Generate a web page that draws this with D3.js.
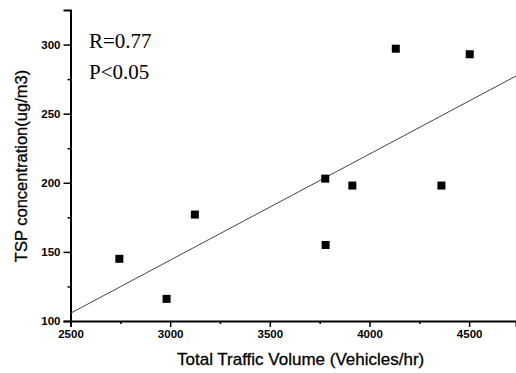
<!DOCTYPE html>
<html>
<head>
<meta charset="utf-8">
<script src="https://cdn.jsdelivr.net/npm/d3@7"></script>
<style>
  body { margin: 0; background: #fff; }
  svg { display: block; }
  .tick text { font-family: "Liberation Sans", Arial, sans-serif; font-weight: bold; font-size: 11.5px; fill: #000; }
</style>
</head>
<body>
<svg id="chart" width="516" height="373"></svg>
<script>
// Traffic volume (vehicles/hr) vs TSP concentration (ug/m3)
const traffic = [2745, 2982, 3124, 3778, 3780, 3914, 4132, 4361, 4503];
const tsp     = [145,  116,  177,  203,  155,  198,  297,  198,  293];
const xTicks = [2500, 3000, 3500, 4000, 4500];
const yTicks = [100, 150, 200, 250, 300];
const fitSlope = 0.0768, fitIntercept = -86.4;
const statLines = ["R=0.77", "P<0.05"];

const svg = d3.select("#chart");
const m = { left: 70.5, right: 0, top: 10, bottom: 52 };
const W = 516, H = 373;

const x = d3.scaleLinear().domain([2500, 4735]).range([m.left, W - m.right]);
const y = d3.scaleLinear().domain([100, 325]).range([H - m.bottom, m.top]);

// minor ticks
const xMinor = d3.range(2750, 4740, 500);
const yMinor = d3.range(125, 325, 50);

const gx = svg.append("g").attr("transform", `translate(0,${y(100)})`);
gx.call(d3.axisBottom(x).tickValues(xTicks).tickSize(6).tickPadding(3).tickFormat(d3.format("d")));
gx.append("g").call(d3.axisBottom(x).tickValues(xMinor).tickSize(3).tickFormat(""));

const gy = svg.append("g").attr("transform", `translate(${x(2500)},0)`);
gy.call(d3.axisLeft(y).tickValues(yTicks).tickSize(7).tickPadding(3).tickFormat(d3.format("d")));
gy.append("g").call(d3.axisLeft(y).tickValues(yMinor).tickSize(3).tickFormat(""));

svg.selectAll("g g .domain").remove();
svg.selectAll(".domain").attr("stroke-width", 2).attr("stroke", "#000");
svg.selectAll(".tick line").attr("stroke-width", 1.5).attr("stroke", "#000");

// regression line
const xEnd = x.domain()[1];
svg.append("line")
  .attr("x1", x(2500)).attr("y1", y(fitSlope * 2500 + fitIntercept))
  .attr("x2", x(xEnd)).attr("y2", y(fitSlope * xEnd + fitIntercept))
  .attr("stroke", "#444").attr("stroke-width", 1);

// data points
const sz = 8;
svg.append("g").selectAll("rect")
  .data(traffic.map((t, i) => [t, tsp[i]]))
  .join("rect")
  .attr("x", d => x(d[0]) - sz / 2)
  .attr("y", d => y(d[1]) - sz / 2)
  .attr("width", sz).attr("height", sz)
  .attr("fill", "#000");

// statistics
svg.append("g").selectAll("text")
  .data(statLines)
  .join("text")
  .attr("x", 89)
  .attr("y", (d, i) => 48 + i * 31)
  .attr("font-family", "'Liberation Serif', 'Times New Roman', serif")
  .attr("font-size", 21)
  .text(d => d);

// axis titles
svg.append("text")
  .attr("x", 177).attr("y", 365)
  .attr("font-family", "'Liberation Sans', Arial, sans-serif")
  .attr("font-size", 17)
  .attr("stroke", "#000").attr("stroke-width", 0.3)
  .text("Total Traffic Volume (Vehicles/hr)");

svg.append("text")
  .attr("transform", `translate(27,166) rotate(-90)`)
  .attr("text-anchor", "middle")
  .attr("font-family", "'Liberation Sans', Arial, sans-serif")
  .attr("font-size", 16.5)
  .attr("stroke", "#000").attr("stroke-width", 0.3)
  .text("TSP concentration(ug/m3)");
</script>
</body>
</html>
